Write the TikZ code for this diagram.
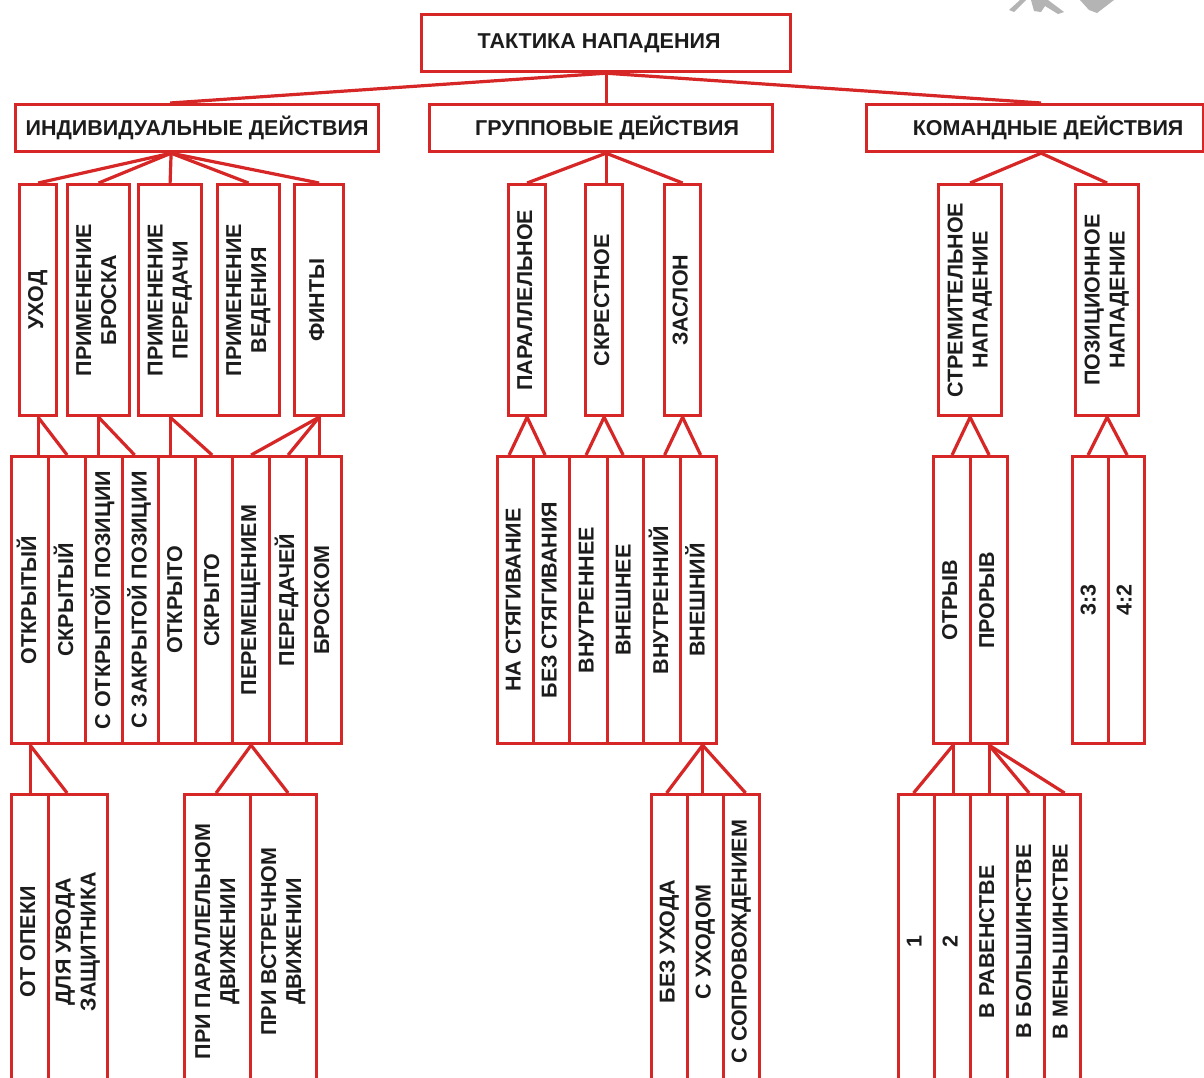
\documentclass[tikz,border=0pt]{standalone}
\usepackage{fontspec}
\setmainfont{Liberation Sans}
\usetikzlibrary{calc}
\definecolor{schemered}{RGB}{214,38,38}
\definecolor{inkgray}{RGB}{28,28,28}
\definecolor{markgray}{RGB}{180,180,180}
% rotated (bottom-to-top) label, lines separated by \\
\newcommand\vlabel[1]{\rotatebox{90}{\begin{tabular}{@{}c@{}}#1\end{tabular}}}
% \cell{name}{left}{top}{width}{height}{text}
\newcommand\cell[6]{\node[frame, minimum width=#4pt, minimum height=#5pt] (#1) at (#2,#3) {#6};}

\begin{document}
\begin{tikzpicture}[x=1pt,y=-1pt,
  frame/.style={draw=schemered, line width=3.2pt, fill=white, inner sep=0pt,
    text=inkgray, font=\bfseries\fontsize{21.5}{25}\selectfont,
    anchor=north west, align=center},
  link/.style={draw=schemered, line width=3.2pt}]
\clip (0,0) rectangle (1204,1077);
\fill[white] (0,0) rectangle (1204,1077);

% corner mark
\fill[markgray] (1020,0) -- (1026,0) -- (1014,12) -- (1009,10) -- cycle;
\fill[markgray] (1031,0) -- (1048,0) -- (1064,12) -- (1058,14) -- (1045,6) -- (1041,12) -- (1034,11) -- cycle;
\fill[markgray] (1080,0) -- (1114,0) -- (1097,13) -- (1089,10) -- cycle;

% root and first level
\cell{root}{420}{13}{369}{57}{\hspace*{-14pt}ТАКТИКА НАПАДЕНИЯ}
\cell{indiv}{14}{103}{363}{47}{ИНДИВИДУАЛЬНЫЕ ДЕЙСТВИЯ}
\cell{group}{428}{103}{343}{47}{\hspace*{12pt}ГРУППОВЫЕ ДЕЙСТВИЯ}
\cell{team}{865}{103}{337}{47}{\hspace*{26pt}КОМАНДНЫЕ ДЕЙСТВИЯ}

% second level
\cell{uhod}{18}{183}{37}{231}{\vlabel{УХОД}}
\cell{brosok}{66}{183}{62}{231}{\vlabel{ПРИМЕНЕНИЕ\\БРОСКА}}
\cell{pered}{137}{183}{63}{231}{\vlabel{ПРИМЕНЕНИЕ\\ПЕРЕДАЧИ}}
\cell{veden}{216}{183}{62}{231}{\vlabel{ПРИМЕНЕНИЕ\\ВЕДЕНИЯ}}
\cell{finty}{293}{183}{49}{231}{\vlabel{ФИНТЫ}}
\cell{parall}{507}{183}{37}{231}{\vlabel{ПАРАЛЛЕЛЬНОЕ}}
\cell{skrest}{584}{183}{37}{231}{\vlabel{СКРЕСТНОЕ}}
\cell{zaslon}{663}{183}{36}{231}{\vlabel{ЗАСЛОН}}
\cell{strem}{937}{183}{63}{231}{\vlabel{СТРЕМИТЕЛЬНОЕ\\НАПАДЕНИЕ}}
\cell{pozic}{1074}{183}{63}{231}{\vlabel{ПОЗИЦИОННОЕ\\НАПАДЕНИЕ}}

% third level
\cell{otkryt}{10}{455}{37}{287}{\vlabel{ОТКРЫТЫЙ}}
\cell{skryt}{47}{455}{37}{287}{\vlabel{СКРЫТЫЙ}}
\cell{sotkr}{84}{455}{37}{287}{\vlabel{С ОТКРЫТОЙ ПОЗИЦИИ}}
\cell{szakr}{121}{455}{36}{287}{\vlabel{С ЗАКРЫТОЙ ПОЗИЦИИ}}
\cell{otkryto}{157}{455}{37}{287}{\vlabel{ОТКРЫТО}}
\cell{skryto}{194}{455}{37}{287}{\vlabel{СКРЫТО}}
\cell{peremesch}{231}{455}{37}{287}{\vlabel{ПЕРЕМЕЩЕНИЕМ}}
\cell{peredachei}{268}{455}{37}{287}{\vlabel{ПЕРЕДАЧЕЙ}}
\cell{broskom}{305}{455}{35}{287}{\vlabel{БРОСКОМ}}

\cell{nastyag}{496}{455}{36}{287}{\vlabel{НА СТЯГИВАНИЕ}}
\cell{bezstyag}{532}{455}{36}{287}{\vlabel{БЕЗ СТЯГИВАНИЯ}}
\cell{vnutrenee}{568}{455}{38}{287}{\vlabel{ВНУТРЕННЕЕ}}
\cell{vneshnee}{606}{455}{36}{287}{\vlabel{ВНЕШНЕЕ}}
\cell{vnutrenni}{642}{455}{37}{287}{\vlabel{ВНУТРЕННИЙ}}
\cell{vneshni}{679}{455}{36}{287}{\vlabel{ВНЕШНИЙ}}

\cell{otryv}{932}{455}{37}{287}{\vlabel{ОТРЫВ}}
\cell{proryv}{969}{455}{37}{287}{\vlabel{ПРОРЫВ}}
\cell{tri}{1071}{455}{36}{287}{\vlabel{3:3}}
\cell{chetyre}{1107}{455}{36}{287}{\vlabel{4:2}}

% fourth level
\cell{otopeki}{10}{793}{37}{294}{\vlabel{ОТ ОПЕКИ}}
\cell{dlyauvoda}{47}{793}{59}{294}{\vlabel{ДЛЯ УВОДА\\ЗАЩИТНИКА}}
\cell{priparall}{183}{793}{66}{294}{\vlabel{ПРИ ПАРАЛЛЕЛЬНОМ\\ДВИЖЕНИИ}}
\cell{privstrech}{249}{793}{66}{294}{\vlabel{ПРИ ВСТРЕЧНОМ\\ДВИЖЕНИИ}}

\cell{bezuhoda}{650}{793}{36}{294}{\vlabel{БЕЗ УХОДА}}
\cell{suhodom}{686}{793}{36}{294}{\vlabel{С УХОДОМ}}
\cell{ssoprov}{722}{793}{36}{294}{\vlabel{С СОПРОВОЖДЕНИЕМ}}

\cell{odin}{897}{793}{36}{294}{\vlabel{1}}
\cell{dva}{933}{793}{36}{294}{\vlabel{2}}
\cell{ravenstvo}{969}{793}{37}{294}{\vlabel{В РАВЕНСТВЕ}}
\cell{bolshinstvo}{1006}{793}{37}{294}{\vlabel{В БОЛЬШИНСТВЕ}}
\cell{menshinstvo}{1043}{793}{36}{294}{\vlabel{В МЕНЬШИНСТВЕ}}

% root to first level
\draw[link] (root.south) -- ([xshift=-27pt]indiv.north);
\draw[link] (root.south) -- (root.south |- group.north);
\draw[link] (root.south) -- ([xshift=6pt]team.north);

% first to second level
\coordinate (indivJ) at ([xshift=-26pt]indiv.south);
\foreach \c in {uhod,brosok,pered,veden,finty}
  \draw[link] (indivJ) -- (\c.north);
\coordinate (groupJ) at (root.south |- group.south);
\draw[link] (groupJ) -- (parall.north);
\draw[link] (groupJ) -- (groupJ |- skrest.north);
\draw[link] (groupJ) -- (zaslon.north);
\coordinate (teamJ) at ([xshift=6pt]team.south);
\draw[link] (teamJ) -- (strem.north);
\draw[link] (teamJ) -- (pozic.north);

% second to third level
\draw[link] (uhod.south) -- (uhod.south |- otkryt.north);
\draw[link] (uhod.south) -- (skryt.north);
\draw[link] (brosok.south) -- (brosok.south |- sotkr.north);
\draw[link] (brosok.south) -- ([xshift=-6pt]szakr.north);
\draw[link] (pered.south) -- (pered.south |- otkryto.north);
\draw[link] (pered.south) -- ([xshift=-2pt]skryto.north);
\draw[link] (finty.south) -- (finty.south |- broskom.north);
\draw[link] (finty.south) -- (peredachei.north);
\draw[link] (finty.south) -- (peremesch.north);

\draw[link] (parall.south) -- ($(parall.south |- nastyag.north)+(-18,0)$);
\draw[link] (parall.south) -- ($(parall.south |- bezstyag.north)+(18,0)$);
\draw[link] (skrest.south) -- ($(skrest.south |- vnutrenee.north)+(-18,0)$);
\draw[link] (skrest.south) -- ($(skrest.south |- vneshnee.north)+(19,0)$);
\draw[link] (zaslon.south) -- ($(zaslon.south |- vnutrenni.north)+(-18,0)$);
\draw[link] (zaslon.south) -- ($(zaslon.south |- vneshni.north)+(18,0)$);

\draw[link] (strem.south) -- ($(strem.south |- otryv.north)+(-18,0)$);
\draw[link] (strem.south) -- ($(strem.south |- proryv.north)+(19,0)$);
\draw[link] (pozic.south) -- ($(pozic.south |- tri.north)+(-19,0)$);
\draw[link] (pozic.south) -- ($(pozic.south |- chetyre.north)+(20,0)$);

% third to fourth level
\draw[link] (otkryt.south) -- (otkryt.south |- otopeki.north);
\draw[link] (otkryt.south) -- ([xshift=-11pt]dlyauvoda.north);
\draw[link] (peremesch.south) -- ($(peremesch.south |- priparall.north)+(-35,0)$);
\draw[link] (peremesch.south) -- ($(peremesch.south |- privstrech.north)+(37,0)$);

\coordinate (vneshniJ) at ([xshift=4pt]vneshni.south);
\draw[link] (vneshniJ) -- ([xshift=-3pt]bezuhoda.north);
\draw[link] (vneshniJ) -- (vneshniJ |- suhodom.north);
\draw[link] (vneshniJ) -- ([xshift=4pt]ssoprov.north);

\coordinate (otryvJ) at ([xshift=1pt]otryv.south);
\draw[link] (otryvJ) -- ([xshift=-3pt]odin.north);
\draw[link] (otryvJ) -- (otryvJ |- dva.north);
\draw[link] (proryv.south) -- (proryv.south |- ravenstvo.north);
\draw[link] (proryv.south) -- ([xshift=3pt]bolshinstvo.north);
\draw[link] (proryv.south) -- ([xshift=2pt]menshinstvo.north);
\end{tikzpicture}
\end{document}
